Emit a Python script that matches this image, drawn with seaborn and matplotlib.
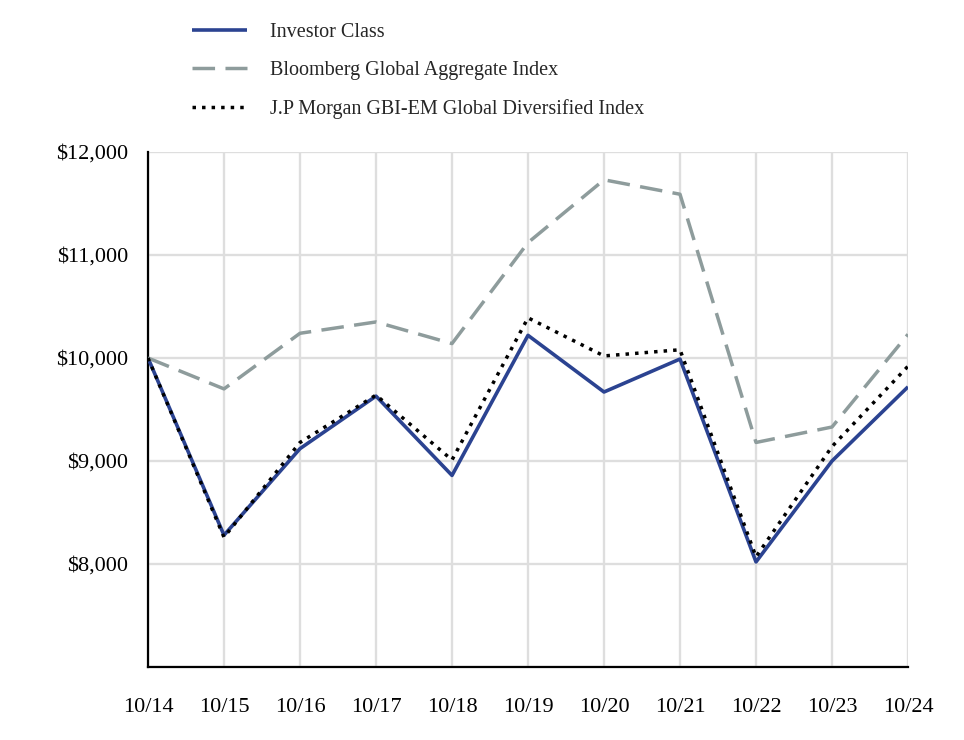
import matplotlib
matplotlib.use("Agg")
import matplotlib.pyplot as plt
import seaborn as sns
import pandas as pd
import numpy as np
from matplotlib.ticker import FuncFormatter

dates = ["10/14", "10/15", "10/16", "10/17", "10/18", "10/19", "10/20", "10/21", "10/22", "10/23", "10/24"]
investor = [10000, 8280, 9120, 9630, 8860, 10220, 9670, 9990, 8020, 9000, 9720]
bloomberg = [10000, 9700, 10240, 10350, 10140, 11120, 11730, 11590, 9180, 9330, 10230]
jpm = [10000, 8260, 9180, 9640, 9010, 10390, 10020, 10080, 8070, 9140, 9920]
series_names = ["Investor Class", "Bloomberg Global Aggregate Index",
                "J.P Morgan GBI-EM Global Diversified Index"]
yticks = [7000, 8000, 9000, 10000, 11000, 12000]

sns.set_theme(style="white")
plt.rcParams['font.family'] = ['Liberation Serif', 'DejaVu Serif']

fig = plt.figure(figsize=(9.64, 7.4), dpi=100)
ax = fig.add_axes([148/964, 1-667/740, (908-148)/964, (667-152)/740])

x = np.arange(len(dates))
df = pd.DataFrame({"x": x, "Investor": investor, "Bloomberg": bloomberg, "JPM": jpm})

styles = [
    ("Investor", "#2b4391", (0, ()), 2.6),
    ("Bloomberg", "#8e9c9c", (0, (6.5, 3)), 2.5),
    ("JPM", "#000000", (0, (1, 1.75)), 2.5),
]
for (col, color, ls, lw), name in zip(styles, series_names):
    sns.lineplot(data=df, x="x", y=col, ax=ax, color=color, linewidth=lw,
                 linestyle=ls, label=name, zorder=3)

ax.set_xlim(0, len(dates)-1)
ax.set_ylim(7000, 12000)
ax.set_xticks(x)
ax.set_xticklabels(dates)
ax.set_yticks(yticks)
ax.yaxis.set_major_formatter(FuncFormatter(lambda v, p: "" if v == 7000 else f"${v:,.0f}"))
ax.set_xlabel("")
ax.set_ylabel("")
ax.grid(True, color="#dedede", linewidth=1.7, zorder=0)
ax.set_axisbelow(True)
for s in ["top", "right"]:
    ax.spines[s].set_visible(False)
for s in ["left", "bottom"]:
    ax.spines[s].set_color("#000000")
    ax.spines[s].set_linewidth(1.6)
ax.tick_params(axis="x", length=0, pad=22, labelsize=16, colors="#000000")
ax.tick_params(axis="y", length=0, pad=14, labelsize=16, colors="#000000")

h, l = ax.get_legend_handles_labels()
if ax.get_legend():
    ax.get_legend().remove()
fig.legend(h, l, loc="upper left", bbox_to_anchor=(184/964, 1-15/740),
           frameon=False, fontsize=14.5, handlelength=2.75, handletextpad=1.1,
           labelspacing=0.93, borderaxespad=0)

fig.savefig("out.png", dpi=100)
